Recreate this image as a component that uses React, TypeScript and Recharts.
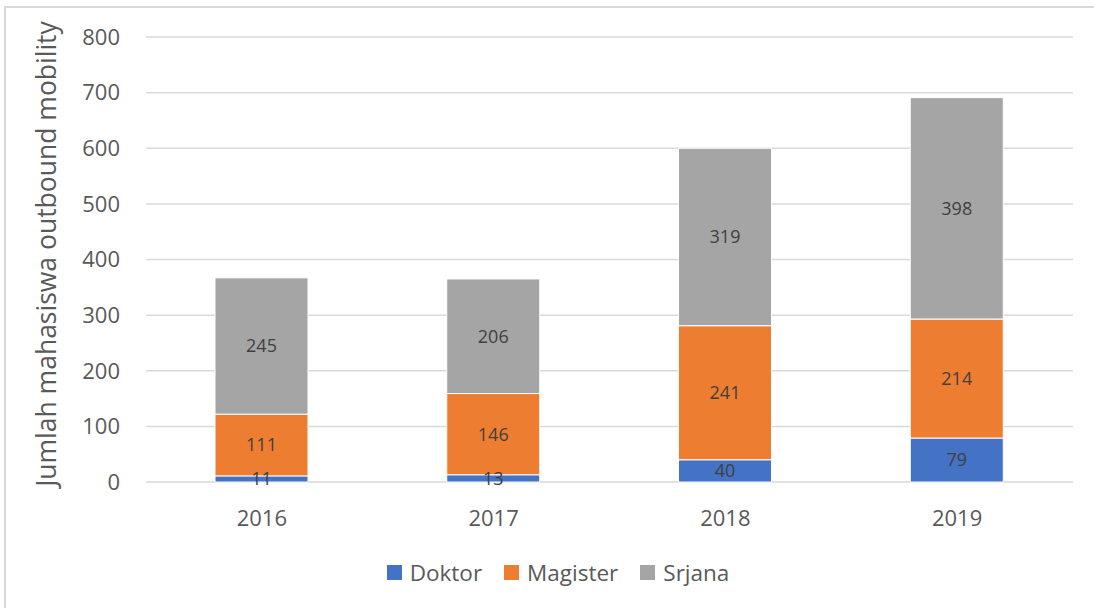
import { Bar, BarChart, CartesianGrid, LabelList, Legend, XAxis, YAxis } from 'recharts'

const years = ['2016', '2017', '2018', '2019']
const doktor = [11, 13, 40, 79]
const magister = [111, 146, 241, 214]
const srjana = [245, 206, 319, 398]
const yTicks = [0, 100, 200, 300, 400, 500, 600, 700, 800]

const series = [
  { key: 'Doktor', values: doktor, color: '#4472C4' },
  { key: 'Magister', values: magister, color: '#ED7D31' },
  { key: 'Srjana', values: srjana, color: '#A5A5A5' },
]

const data = years.map((year, i) => ({
  year,
  Doktor: doktor[i],
  Magister: magister[i],
  Srjana: srjana[i],
}))

const font = '"Open Sans", "Noto Sans", sans-serif'

function LegendBox() {
  return (
    <div style={{ display: 'flex', justifyContent: 'center', alignItems: 'center', fontFamily: font, fontSize: 22.5, color: '#595959', paddingLeft: 22 }}>
      {series.map((s) => (
        <span key={s.key} style={{ display: 'inline-flex', alignItems: 'center', margin: '0 11px' }}>
          <span style={{ width: 15, height: 15, background: s.color, marginRight: 8, display: 'inline-block' }} />
          {s.key}
        </span>
      ))}
    </div>
  )
}

export default function App() {
  return (
    <div style={{ position: 'absolute', left: 0, top: 0, width: 1094, height: 608, background: '#fff', overflow: 'hidden' }}>
      <div style={{ position: 'absolute', left: 4, top: 6, width: 1200, height: 700, borderLeft: '2px solid #D9D9D9', borderTop: '2px solid #D9D9D9' }} />
      <BarChart
        width={1094}
        height={608}
        data={data}
        margin={{ top: 37, right: 21, bottom: 96, left: 0 }}
        style={{ position: 'absolute', left: 0, top: 0 }}
      >
        <CartesianGrid vertical={false} stroke="#D9D9D9" strokeWidth={1.5} />
        <XAxis
          dataKey="year"
          height={30}
          axisLine={false}
          tickLine={false}
          tickMargin={22}
          tick={{ fontSize: 22, fill: '#595959', fontFamily: font }}
        />
        <YAxis
          width={146}
          domain={[0, 800]}
          ticks={yTicks}
          axisLine={false}
          tickLine={false}
          tickSize={0}
          tickMargin={26}
          tick={{ fontSize: 22, fill: '#595959', fontFamily: font }}
          label={{
            content: () => (
              <text
                x={46}
                y={254}
                transform="rotate(-90 46 254)"
                textAnchor="middle"
                dominantBaseline="central"
                fontSize={26.5}
                fill="#595959"
                fontFamily={font}
              >
                Jumlah mahasiswa outbound mobility
              </text>
            ),
          }}
        />
        <Legend verticalAlign="middle" align="center" wrapperStyle={{ top: 557, left: 0, width: 1094 }} content={() => <LegendBox />} />
        {series.map((s) => (
          <Bar key={s.key} dataKey={s.key} stackId="a" fill={s.color} stroke="#fff" strokeWidth={1} barSize={93} isAnimationActive={false}>
            <LabelList dataKey={s.key} position="center" fill="#404040" fontSize={18} fontFamily={font} />
          </Bar>
        ))}
      </BarChart>
    </div>
  )
}
